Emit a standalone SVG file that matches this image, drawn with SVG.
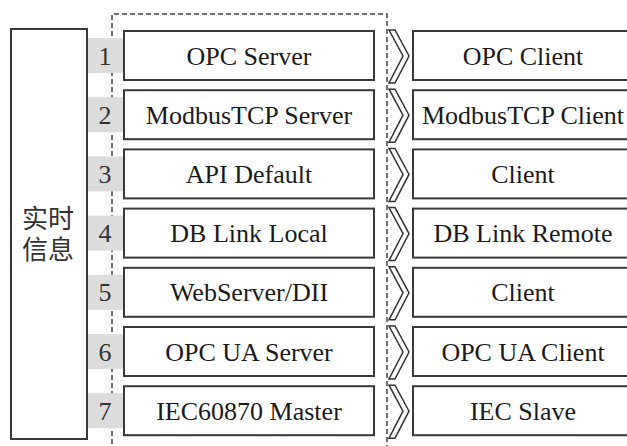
<svg xmlns="http://www.w3.org/2000/svg" width="627" height="446" viewBox="0 0 627 446">
  <style>
    .box { fill: #ffffff; stroke: #3a3a3a; stroke-width: 2; }
    .tab { fill: #dcdcdc; stroke: none; }
    .dash { fill: none; stroke: #444; stroke-width: 1.5; stroke-dasharray: 5 3; }
    .chev { fill: #ffffff; stroke: #333; stroke-width: 1.5; }
  </style>
  <rect width="627" height="446" fill="#ffffff"/>

  <!-- dashed frame around the server column -->
  <g id="frame">
    <path class="dash" d="M112,452 V14 H387 V452"/>
  </g>

  <!-- real-time information block -->
  <g id="info" font-family="Liberation Serif, Noto Sans CJK SC, serif" font-size="26" fill="#333" text-anchor="middle">
    <rect class="box" x="11" y="29" width="76" height="410"/>
    <text x="48" y="228">实时</text>
    <text x="48" y="259">信息</text>
  </g>

  <!-- number tabs -->
  <g id="tabs">
    <rect class="tab" x="88" y="38" width="36" height="35"/>
    <rect class="tab" x="88" y="97.2" width="36" height="35"/>
    <rect class="tab" x="88" y="156.4" width="36" height="35"/>
    <rect class="tab" x="88" y="215.6" width="36" height="35"/>
    <rect class="tab" x="88" y="274.8" width="36" height="35"/>
    <rect class="tab" x="88" y="334" width="36" height="35"/>
    <rect class="tab" x="88" y="393.2" width="36" height="35"/>
    <g font-family="Liberation Serif, serif" font-size="26" fill="#333" text-anchor="middle">
      <text x="105" y="64.5">1</text>
      <text x="105" y="123.7">2</text>
      <text x="105" y="182.9">3</text>
      <text x="105" y="242.1">4</text>
      <text x="105" y="301.3">5</text>
      <text x="105" y="360.5">6</text>
      <text x="105" y="419.7">7</text>
    </g>
  </g>

  <!-- server side -->
  <g id="servers" font-family="Liberation Serif, serif" font-size="26" fill="#1a1a1a" text-anchor="middle">
    <g id="server1"><rect class="box" x="124" y="31" width="250" height="49"/><text x="249" y="64.5">OPC Server</text></g>
    <g id="server2"><rect class="box" x="124" y="90.2" width="250" height="49"/><text x="249" y="123.7">ModbusTCP Server</text></g>
    <g id="server3"><rect class="box" x="124" y="149.4" width="250" height="49"/><text x="249" y="182.9">API Default</text></g>
    <g id="server4"><rect class="box" x="124" y="208.6" width="250" height="49"/><text x="249" y="242.1">DB Link Local</text></g>
    <g id="server5"><rect class="box" x="124" y="267.8" width="250" height="49"/><text x="249" y="301.3">WebServer/DII</text></g>
    <g id="server6"><rect class="box" x="124" y="327" width="250" height="49"/><text x="249" y="360.5">OPC UA Server</text></g>
    <g id="server7"><rect class="box" x="124" y="386.2" width="250" height="49"/><text x="249" y="419.7">IEC60870 Master</text></g>
  </g>

  <!-- client side -->
  <g id="clients" font-family="Liberation Serif, serif" font-size="26" fill="#1a1a1a" text-anchor="middle">
    <g id="client1"><rect class="box" x="413" y="31" width="222" height="49"/><text x="523" y="64.5">OPC Client</text></g>
    <g id="client2"><rect class="box" x="413" y="90.2" width="222" height="49"/><text x="523" y="123.7">ModbusTCP Client</text></g>
    <g id="client3"><rect class="box" x="413" y="149.4" width="222" height="49"/><text x="523" y="182.9">Client</text></g>
    <g id="client4"><rect class="box" x="413" y="208.6" width="222" height="49"/><text x="523" y="242.1">DB Link Remote</text></g>
    <g id="client5"><rect class="box" x="413" y="267.8" width="222" height="49"/><text x="523" y="301.3">Client</text></g>
    <g id="client6"><rect class="box" x="413" y="327" width="222" height="49"/><text x="523" y="360.5">OPC UA Client</text></g>
    <g id="client7"><rect class="box" x="413" y="386.2" width="222" height="49"/><text x="523" y="419.7">IEC Slave</text></g>
  </g>

  <!-- chevron connectors -->
  <g id="connectors">
    <polygon class="chev" points="389,30 395,30 409,56 395,83 389,83 403,56"/>
    <polygon class="chev" points="389,89.2 395,89.2 409,115.2 395,142.2 389,142.2 403,115.2"/>
    <polygon class="chev" points="389,148.4 395,148.4 409,174.4 395,201.4 389,201.4 403,174.4"/>
    <polygon class="chev" points="389,207.6 395,207.6 409,233.6 395,260.6 389,260.6 403,233.6"/>
    <polygon class="chev" points="389,266.8 395,266.8 409,292.8 395,319.8 389,319.8 403,292.8"/>
    <polygon class="chev" points="389,326 395,326 409,352 395,379 389,379 403,352"/>
    <polygon class="chev" points="389,385.2 395,385.2 409,411.2 395,438.2 389,438.2 403,411.2"/>
  </g>
</svg>
